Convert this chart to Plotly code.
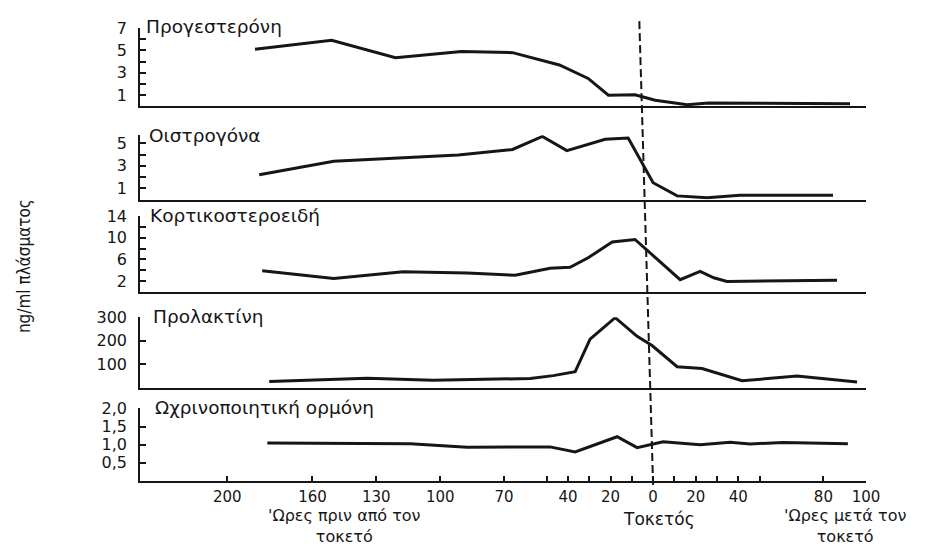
import plotly.graph_objects as go

# ---------------- data (hours relative to delivery; negative = before) ----------------
prog_hours = [-187, -151, -121, -90, -66, -44, -30.5, -21, -8.5, 1, 16, 26, 92.5]
prog_vals = [5.1, 5.9, 4.35, 4.9, 4.8, 3.7, 2.5, 1.0, 1.05, 0.55, 0.15, 0.3, 0.25]

estr_hours = [-185, -150, -91.5, -66, -52, -40.5, -22.5, -11.7, 0, 11.3, 25.4, 40.8, 84.5]
estr_vals = [2.2, 3.4, 3.95, 4.45, 5.6, 4.35, 5.35, 5.47, 1.5, 0.33, 0.16, 0.39, 0.39]

cort_hours = [-183.6, -150, -117.4, -87.3, -64.8, -48.4, -39, -30.5, -19.2, -8.5, 12.7, 22.1, 28.5, 34.7, 86.4]
cort_vals = [3.9, 2.45, 3.7, 3.5, 3.05, 4.35, 4.55, 6.3, 9.25, 9.7, 2.25, 3.8, 2.6, 1.9, 2.15]

prol_hours = [-180.3, -134.3, -103.3, -71.8, -57.7, -46.9, -36.6, -29.6, -17.8, -7.5, -0.5, 11.3, 23, 41.8, 67.6, 95.8]
prol_vals = [27, 41, 32, 36, 40, 52, 69, 207, 298, 219, 180, 90, 82, 30, 50, 25]

hcg_hours = [-181.2, -114.1, -87.3, -63.8, -48.4, -36.6, -16.9, -7.5, 4.7, 22.1, 36.2, 45.5, 61, 91.5]
hcg_vals = [1.05, 1.03, 0.93, 0.94, 0.94, 0.8, 1.22, 0.92, 1.08, 1.0, 1.07, 1.02, 1.06, 1.03]

panel_names = ["Προγεστερόνη", "Οιστρογόνα", "Κορτικοστεροειδή", "Προλακτίνη",
               "Ωχρινοποιητική ορμόνη"]

x_tick_vals = [-200, -160, -130, -100, -70, -50, -40, -30, -20, -10, 0, 10, 20, 30, 40, 50, 80, 100]
x_tick_text = ["200", "160", "130", "100", "70", "", "40", "", "20", "", "0", "", "20", "", "40", "",
               "80", "100"]

y_ticks = [
    ([1, 2, 3, 4, 5, 6, 7], ["1", "", "3", "", "5", "", "7"]),
    ([1, 2, 3, 4, 5, 5.7], ["1", "", "3", "", "5", ""]),
    ([2, 4, 6, 8, 10, 12, 14], ["2", "", "6", "", "10", "", "14"]),
    ([100, 200, 300], ["100", "200", "300"]),
    ([0.5, 1.0, 1.5, 2.0], ["0,5", "1,0", "1,5", "2,0"]),
]
y_ranges = [[0, 7], [0, 5.7], [0, 14], [0, 300], [0, 2]]
y_domains = [[0.8268, 1.0], [0.6212, 0.763], [0.4177, 0.5844], [0.2056, 0.3615], [0.0, 0.1602]]
title_pos = [(0.006, 1.0043), (0.009, 0.7619), (0.011, 0.5866), (0.015, 0.3636), (0.018, 0.1623)]

series = [(prog_hours, prog_vals), (estr_hours, estr_vals), (cort_hours, cort_vals),
          (prol_hours, prol_vals), (hcg_hours, hcg_vals)]

INK = "#161616"
FONT = "DejaVu Sans"
x_range = [-241, 100]

fig = go.Figure()
layout = {}
annotations = []
for i, ((hx, hy), name) in enumerate(zip(series, panel_names), start=1):
    sfx = "" if i == 1 else str(i)
    fig.add_trace(go.Scatter(
        x=hx, y=hy, mode="lines", line=dict(color=INK, width=3),
        xaxis="x" + sfx, yaxis="y" + sfx, showlegend=False, hoverinfo="skip"))
    last = (i == 5)
    layout["xaxis" + sfx] = dict(
        domain=[0, 1], range=x_range, anchor="y" + sfx,
        showline=True, linecolor=INK, linewidth=1.5,
        showgrid=False, zeroline=False,
        showticklabels=last,
        ticks="inside" if last else "", ticklen=5, tickwidth=1.5, tickcolor=INK,
        tickmode="array", tickvals=x_tick_vals, ticktext=x_tick_text,
        tickfont=dict(family=FONT, size=15, color=INK),
        ticklabelstandoff=1,
    )
    tv, tt = y_ticks[i - 1]
    layout["yaxis" + sfx] = dict(
        domain=y_domains[i - 1], range=y_ranges[i - 1], anchor="x" + sfx,
        showline=True, linecolor=INK, linewidth=1.5,
        showgrid=False, zeroline=False,
        ticks="inside", ticklen=6, tickwidth=1.5, tickcolor=INK,
        tickmode="array", tickvals=tv, ticktext=tt,
        tickfont=dict(family=FONT, size=16, color=INK),
        ticklabelstandoff=8,
    )
    tx, ty = title_pos[i - 1]
    annotations.append(dict(
        text=name, x=tx, y=ty, xref="paper", yref="paper",
        xanchor="left", yanchor="middle", showarrow=False,
        font=dict(family=FONT, size=18.5, color=INK)))


def label(text, x, y, size=16):
    return dict(text=text, x=x, y=y, xref="paper", yref="paper", showarrow=False,
                xanchor="center", yanchor="middle", align="center",
                font=dict(family=FONT, size=size, color=INK))


annotations += [
    dict(text="ng/ml πλάσματος", x=-0.16, y=0.474, xref="paper", yref="paper",
         textangle=-90, showarrow=False, xanchor="center", yanchor="middle",
         font=dict(family="DejaVu Sans Condensed", size=17, color=INK)),
    label("'Ωρες πριν από τον<br>τοκετό", 0.282, -0.0985),
    label("Τοκετός", 0.715, -0.0844, size=17),
    label("'Ωρες μετά τον<br>τοκετό", 0.971, -0.0985),
]

delivery_hour = 0
fig.add_shape(type="line", xref="x5", yref="paper",
              x0=delivery_hour, y0=-0.0087, x1=delivery_hour - 6.5, y1=1.0195,
              line=dict(color=INK, width=2, dash="8px,4px"), layer="above")

# the page adds an 8px body margin, so the figure is 8px smaller than the window
fig.update_layout(
    width=936, height=540,
    margin=dict(l=132, r=78, t=11, b=67),
    paper_bgcolor="white", plot_bgcolor="white",
    annotations=annotations,
    **layout,
)

fig.write_html("out.html")
